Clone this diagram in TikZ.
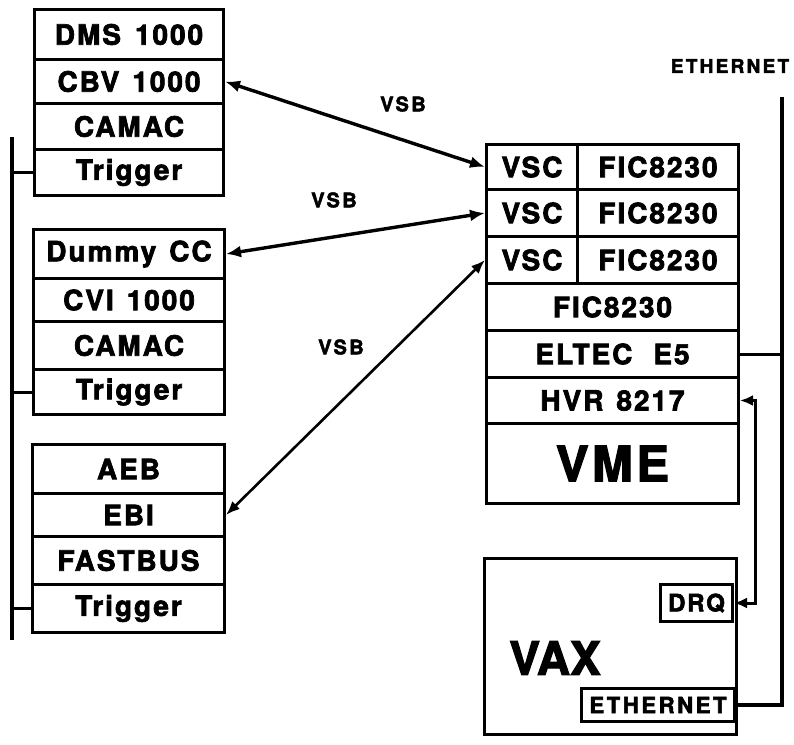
\documentclass[tikz,border=0pt]{standalone}
\usepackage{fontspec}
\setmainfont{TeX Gyre Heros}
\newfontfamily\hb[LetterSpace=7,FakeBold=2.5]{TeX Gyre Heros}
\newfontfamily\hbw[LetterSpace=12,FakeBold=2.5]{TeX Gyre Heros}
\newfontfamily\hbv[FakeBold=2.5]{TeX Gyre Heros}
\usetikzlibrary{arrows.meta}
\begin{document}
\begin{tikzpicture}[x=1pt,y=-1pt,
  cell/.style={draw, line width=3pt, inner sep=0pt, anchor=north west,
    font=\hb\bfseries\fontsize{28}{30}\selectfont},
  lbl/.style={inner sep=0pt, font=\hbw\bfseries\fontsize{20}{22}\selectfont},
  vsb/.style={line width=3.4pt, {Latex[length=15pt,width=12pt]}-{Latex[length=15pt,width=12pt]}},
  vsbthin/.style={line width=2.6pt, {Latex[length=14pt,width=11pt]}-{Latex[length=14pt,width=11pt]}},
  bus/.style={line width=3.6pt},
  wire/.style={line width=3pt}]
\useasboundingbox (0,0) rectangle (794,744);
% left block 1
\node[cell, minimum width=189pt, minimum height=50pt] (dms) at (33,8) {DMS\hspace{14pt}1000};
\node[cell, minimum width=189pt, minimum height=44pt] (cbv) at (33,58) {CBV\hspace{13pt}1000};
\node[cell, minimum width=189pt, minimum height=46pt] (camac1) at (33,102) {CAMAC};
\node[cell, minimum width=189pt, minimum height=46pt] (trig1) at (33,148) {Trigger};
% left block 2
\node[cell, minimum width=191pt, minimum height=49pt] (dummy) at (32,228) {Dummy\hspace{13pt}CC};
\node[cell, minimum width=191pt, minimum height=43pt] (cvi) at (32,277) {CVI\hspace{13pt}1000};
\node[cell, minimum width=191pt, minimum height=48pt] (camac2) at (32,320) {CAMAC};
\node[cell, minimum width=191pt, minimum height=45pt] (trig2) at (32,368) {Trigger};
% left block 3
\node[cell, minimum width=192pt, minimum height=49pt] (aeb) at (31,443) {AEB};
\node[cell, minimum width=192pt, minimum height=43pt] (ebi) at (31,492) {EBI};
\node[cell, minimum width=192pt, minimum height=48pt] (fastbus) at (31,535) {FASTBUS};
\node[cell, minimum width=192pt, minimum height=48pt] (trig3) at (31,583) {Trigger};
% VME crate
\node[cell, minimum width=91pt, minimum height=45pt] (vsc1) at (485,143) {VSC};
\node[cell, minimum width=161pt, minimum height=45pt] (fic1) at (576,143) {FIC8230};
\node[cell, minimum width=91pt, minimum height=47pt] (vsc2) at (485,188) {VSC};
\node[cell, minimum width=161pt, minimum height=47pt] (fic2) at (576,188) {FIC8230};
\node[cell, minimum width=91pt, minimum height=47pt] (vsc3) at (485,235) {VSC};
\node[cell, minimum width=161pt, minimum height=47pt] (fic3) at (576,235) {FIC8230};
\node[cell, minimum width=252pt, minimum height=47pt] (fic4) at (485,282) {FIC8230};
\node[cell, minimum width=252pt, minimum height=47pt] (eltec) at (485,329) {ELTEC\hspace{21pt}E5};
\node[cell, minimum width=252pt, minimum height=46pt] (hvr) at (485,376) {HVR\hspace{13pt}8217};
\node[cell, minimum width=252pt, minimum height=80pt, font=\hb\bfseries\fontsize{49}{52}\selectfont] (vme) at (485,422) {VME};
% VAX
\node[cell, minimum width=252pt, minimum height=176pt] (vax) at (483,557) {};
\node[inner sep=0pt, font=\hbv\bfseries\fontsize{46}{48}\selectfont] (vaxlabel) at (555,658) {VAX};
\node[cell, minimum width=72pt, minimum height=37pt, font=\hb\bfseries\fontsize{24}{26}\selectfont] (drq) at (659,583) {DRQ};
\node[cell, minimum width=153pt, minimum height=33pt, font=\hbw\bfseries\fontsize{22}{24}\selectfont] (eth) at (580,687) {ETHERNET};
% labels
\node[lbl] (vsbA) at (403,104) {VSB};
\node[lbl] (vsbB) at (334,200) {VSB};
\node[lbl] (vsbC) at (341,347) {VSB};
\node[lbl, font=\hbw\bfseries\fontsize{19}{21}\selectfont] (ethlabel) at (730,66) {ETHERNET};
% VSB links
\draw[vsb] (cbv.east) -- (vsc1.west);
\draw[vsb] (dummy.east) -- (vsc2.west);
\draw[vsbthin] (ebi.east) -- (vsc3.west);
% HVR - DRQ link
\coordinate (hx) at (755,0);
\draw[wire, {Latex[length=13pt,width=11pt]}-{Latex[length=13pt,width=11pt]}] (hvr.east) -- (hvr.east -| hx) |- (drq.east);
% Ethernet
\coordinate (ethtop) at (782,97);
\draw[bus] (ethtop) |- (eth.east);
\draw[wire] (eltec.east) -- (eltec.east -| ethtop);
% trigger bus
\coordinate (bustop) at (12,137);
\coordinate (busbot) at (12,640);
\draw[bus] (bustop) -- (busbot);
\draw[wire] (trig1.west -| bustop) -- (trig1.west);
\draw[wire] (trig2.west -| bustop) -- (trig2.west);
\draw[wire] (trig3.west -| bustop) -- (trig3.west);
\end{tikzpicture}
\end{document}
